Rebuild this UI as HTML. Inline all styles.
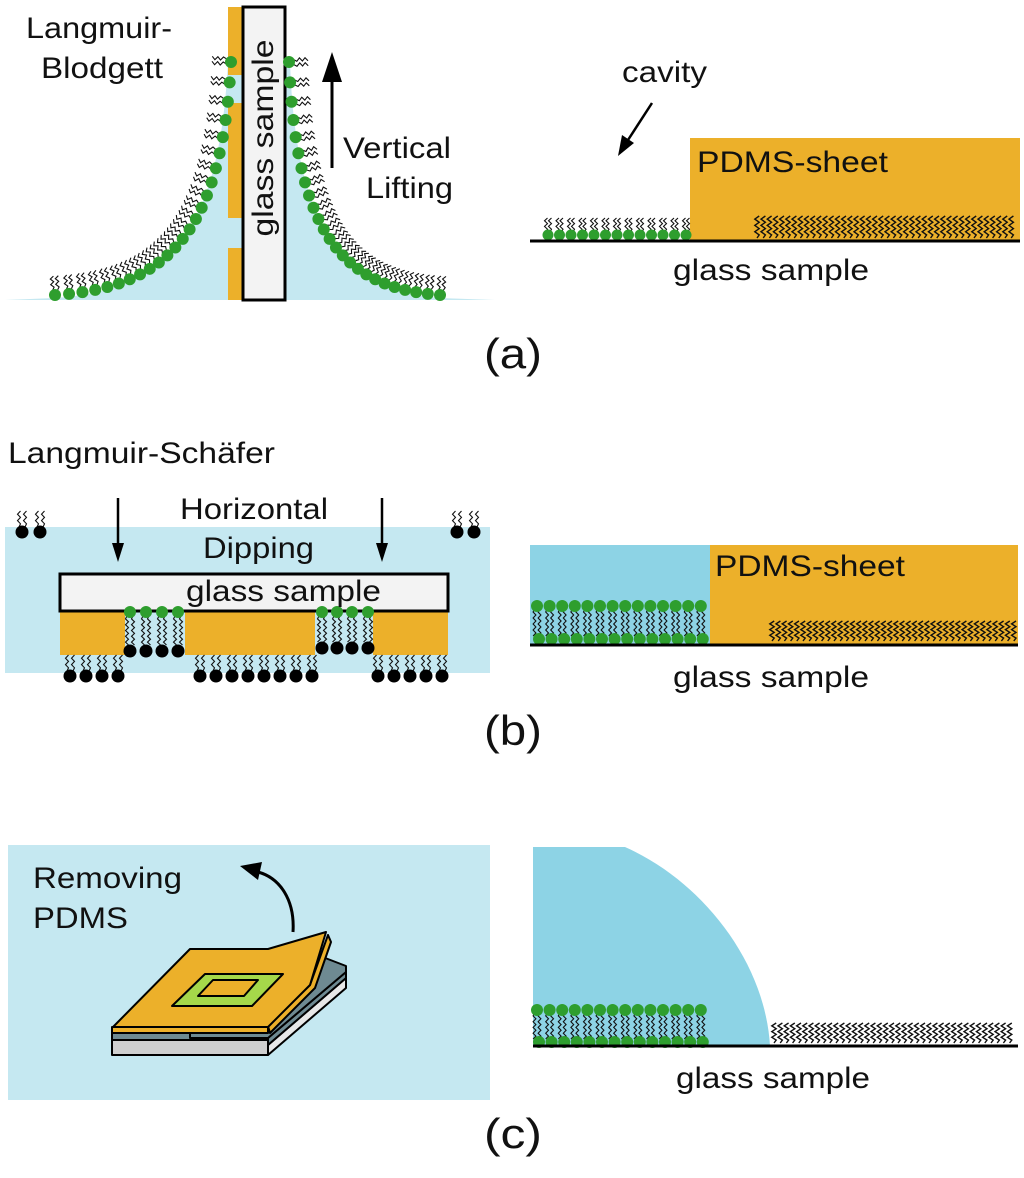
<!DOCTYPE html>
<html><head><meta charset="utf-8"><style>
html,body{margin:0;padding:0;background:#fff;}
svg{display:block;}
text{font-family:"Liberation Sans",Arial,sans-serif;fill:#111;}
</style></head><body>
<svg id="s" width="1024" height="1178" viewBox="0 0 1024 1178" xmlns="http://www.w3.org/2000/svg">
<!-- Panel a left -->
<path d="M5,300 L55,298 C170,290 220,230 228,60 L290,60 C295,230 345,290 440,298 L495,300 Z" fill="#c5e8f1"/>
<rect x="228" y="7" width="14" height="68" fill="#ecb02a"/>
<rect x="228" y="103" width="14" height="115" fill="#ecb02a"/>
<rect x="228" y="248" width="14" height="52" fill="#ecb02a"/>
<rect x="243" y="7" width="42" height="293" fill="#f3f3f3" stroke="#000" stroke-width="3"/>
<text transform="translate(273,138) rotate(-90)" font-size="30" text-anchor="middle" textLength="197" lengthAdjust="spacingAndGlyphs">glass sample</text>
<g id="aL"></g>
<line x1="332" y1="168" x2="332" y2="78" stroke="#000" stroke-width="3"/>
<path d="M322,82 L332,52 L342,82 Z" fill="#000"/>
<text x="26" y="38" font-size="30" textLength="146" lengthAdjust="spacingAndGlyphs">Langmuir-</text>
<text x="41" y="78" font-size="30" textLength="122" lengthAdjust="spacingAndGlyphs">Blodgett</text>
<text x="343" y="158" font-size="30" textLength="108" lengthAdjust="spacingAndGlyphs">Vertical</text>
<text x="366" y="198" font-size="30" textLength="87" lengthAdjust="spacingAndGlyphs">Lifting</text>
<!-- Panel a right -->
<rect x="690" y="138" width="330" height="103" fill="#ecb02a"/>
<g id="aR"></g>
<line x1="530" y1="241" x2="1020" y2="241" stroke="#000" stroke-width="3"/>
<line x1="652" y1="103" x2="628" y2="140" stroke="#000" stroke-width="2.5"/>
<path d="M618,156 L622,135 L634,143 Z" fill="#000"/>
<text x="622" y="82" font-size="30" textLength="85" lengthAdjust="spacingAndGlyphs">cavity</text>
<text x="697" y="172" font-size="30" textLength="191" lengthAdjust="spacingAndGlyphs">PDMS-sheet</text>
<text x="673" y="280" font-size="30" textLength="196" lengthAdjust="spacingAndGlyphs">glass sample</text>
<text x="484" y="368" font-size="42" textLength="58" lengthAdjust="spacingAndGlyphs">(a)</text>
<!-- Panel b left -->
<rect x="5" y="527" width="485" height="146" fill="#c5e8f1"/>
<rect x="60" y="612" width="65" height="43" fill="#ecb02a"/>
<rect x="185" y="612" width="130" height="43" fill="#ecb02a"/>
<rect x="373" y="612" width="75" height="43" fill="#ecb02a"/>
<rect x="60" y="574" width="388" height="37" fill="#f3f3f3" stroke="#000" stroke-width="3"/>
<g id="bL"></g>
<line x1="118" y1="498" x2="118" y2="545" stroke="#000" stroke-width="2.5"/>
<path d="M112,543 L118,562 L124,543 Z" fill="#000"/>
<line x1="382" y1="498" x2="382" y2="545" stroke="#000" stroke-width="2.5"/>
<path d="M376,543 L382,562 L388,543 Z" fill="#000"/>
<text x="8" y="463" font-size="30" textLength="267" lengthAdjust="spacingAndGlyphs">Langmuir-Schäfer</text>
<text x="180" y="519" font-size="30" textLength="148" lengthAdjust="spacingAndGlyphs">Horizontal</text>
<text x="203" y="558" font-size="30" textLength="111" lengthAdjust="spacingAndGlyphs">Dipping</text>
<text x="186" y="601" font-size="30" textLength="195" lengthAdjust="spacingAndGlyphs">glass sample</text>
<!-- Panel b right -->
<rect x="530" y="545" width="180" height="100" fill="#8dd3e5"/>
<rect x="710" y="545" width="308" height="100" fill="#ecb02a"/>
<g id="bR"></g>
<line x1="530" y1="645" x2="1018" y2="645" stroke="#000" stroke-width="3"/>
<text x="715" y="576" font-size="30" textLength="190" lengthAdjust="spacingAndGlyphs">PDMS-sheet</text>
<text x="673" y="687" font-size="30" textLength="196" lengthAdjust="spacingAndGlyphs">glass sample</text>
<text x="484" y="745" font-size="42" textLength="58" lengthAdjust="spacingAndGlyphs">(b)</text>
<!-- Panel c left -->
<rect x="8" y="845" width="482" height="255" fill="#c5e8f1"/>
<text x="33" y="888" font-size="30" textLength="149" lengthAdjust="spacingAndGlyphs">Removing</text>
<text x="33" y="928" font-size="30" textLength="95" lengthAdjust="spacingAndGlyphs">PDMS</text>
<path d="M293,932 C295,900 280,878 258,872" fill="none" stroke="#000" stroke-width="3"/>
<path d="M240,866 L262,862 L258,880 Z" fill="#000"/>
<g stroke="#000" stroke-width="2" stroke-linejoin="round">
<polygon points="268,1045 346,978 346,988 268,1055" fill="#e8e8e8"/>
<polygon points="268,1038 346,972 346,978 268,1045" fill="#6e8a92"/>
<polygon points="112,1038 268,1038 268,1055 112,1055" fill="#cfcfcf"/>
<polygon points="112,1033 268,1033 268,1040 112,1040" fill="#6e8a92"/>
<polygon points="190,956 320,956 346,966 346,972 268,1038 190,1038" fill="#6e8a92"/>
<polygon points="268,1026 310,985 328,935 331,942 315,988 270,1033" fill="#ecb02a"/>
<polygon points="113,1027 190,949 268,949 326,932 310,985 268,1027" fill="#ecb02a"/>
<polygon points="112,1027 268,1027 268,1033 112,1033" fill="#ecb02a"/>
<polygon points="172,1006 205,974 283,974 252,1006" fill="#a5d84a"/>
<polygon points="198,996 213,980 258,980 244,996" fill="#ecb02a"/>
</g>
<!-- Panel c right -->
<path d="M533,847 L625,847 C700,880 765,960 770,1046 L533,1046 Z" fill="#8dd3e5"/>
<g id="cR"></g>
<line x1="533" y1="1046" x2="1018" y2="1046" stroke="#000" stroke-width="3"/>
<text x="676" y="1088" font-size="30" textLength="194" lengthAdjust="spacingAndGlyphs">glass sample</text>
<text x="484" y="1148" font-size="42" textLength="58" lengthAdjust="spacingAndGlyphs">(c)</text>
</svg>
<script>
var NS="http://www.w3.org/2000/svg";
function add(g,tag,at){var e=document.createElementNS(NS,tag);for(var k in at)e.setAttribute(k,at[k]);document.getElementById(g).appendChild(e);return e;}
function sq(g,x,y,dx,dy,len,amp,w){
 var n=Math.max(3,Math.round(len/3)),px=-dy,py=dx,d="M"+x.toFixed(1)+","+y.toFixed(1);
 for(var i=1;i<=n;i++){var t=len*i/n,s=(i%2?1:-1)*amp;d+=" L"+(x+dx*t+px*s).toFixed(1)+","+(y+dy*t+py*s).toFixed(1);}
 add(g,"path",{d:d,fill:"none",stroke:"#111","stroke-width":w||1.1});
}
function dot(g,x,y,r,c){add(g,"circle",{cx:x,cy:y,r:r,fill:c});}
var G="#2e9e2e";
function bz(p,t){var u=1-t;return [u*u*u*p[0][0]+3*u*u*t*p[1][0]+3*u*t*t*p[2][0]+t*t*t*p[3][0],u*u*u*p[0][1]+3*u*u*t*p[1][1]+3*u*t*t*p[2][1]+t*t*t*p[3][1]];}
var L=[[55,295],[170,288],[222,230],[231,62]];
var R=[[289,62],[296,230],[340,288],[440,295]];
[[L,-1],[R,1]].forEach(function(c){
 var p=c[0],side=c[1];
 for(var i=0;i<=24;i++){var t=i/24;var a=bz(p,t),b=bz(p,Math.min(1,t+0.01)),b0=bz(p,Math.max(0,t-0.01));
  var tx=b[0]-b0[0],ty=b[1]-b0[1],m=Math.hypot(tx,ty);tx/=m;ty/=m;
  var nx=-ty,ny=tx; if(ny>0){nx=-nx;ny=-ny;}
  if(side<0&&nx>0){nx=-nx;ny=-ny;} if(side>0&&nx<0){nx=-nx;ny=-ny;}
  var ox=a[0],oy=a[1];
  sq("aL",ox+nx*5-tx*2,oy+ny*5-ty*2,nx,ny,14,1.6);
  sq("aL",ox+nx*5+tx*3,oy+ny*5+ty*3,nx,ny,14,1.6);
 }
 for(var i=0;i<=24;i++){var a=bz(p,i/24);dot("aL",a[0],a[1],6,G);}
});
for(var x=548;x<=686;x+=11.5){sq("aR",x-2,232,0,-1,14,1.5);sq("aR",x+2,232,0,-1,14,1.5);dot("aR",x,235,5.5,G);}
for(var x=757;x<=1014;x+=6.2){sq("aR",x,238,0,-1,22,2.2,1.4);}
[[22,532],[40,532],[457,532],[474,532]].forEach(function(q){sq("bL",q[0]-3,q[1]-5,0,-1,16,1.5);sq("bL",q[0]+3,q[1]-5,0,-1,16,1.5);dot("bL",q[0],q[1],6.5,"#000");});
[130,146,162,178,322,337,352,368].forEach(function(x,i){var yb=i<4?651:648;sq("bL",x-3,616,0,1,yb-622,1.5);sq("bL",x+3,616,0,1,yb-622,1.5);dot("bL",x,612,6,G);dot("bL",x,yb,6.5,"#000");});
var bx=[70,86,102,118,200,216,232,248,264,280,296,312,378,394,410,426,442];
bx.forEach(function(x){sq("bL",x-3,671,0,-1,16,1.5);sq("bL",x+3,671,0,-1,16,1.5);dot("bL",x,676,6.5,"#000");});
function bil(g,y1,y2){for(var i=0;i<14;i++){var x=537+i*12.6;sq(g,x-2.5,y1+3,0,1,y2-y1-6,1.4);sq(g,x+2.5,y1+3,0,1,y2-y1-6,1.4);}
 for(var i=0;i<14;i++){var x=537+i*12.6;dot(g,x,y1,6,G);dot(g,x+2,y2,6,G);}}
bil("bR",606,639);
for(var x=772;x<=1014;x+=6.2){sq("bR",x,641,0,-1,20,2.2,1.4);}
bil("cR",1010,1042);
for(var x=774;x<=1014;x+=6.2){sq("cR",x,1043,0,-1,20,2.2,1.4);}
</script>
</body></html>
